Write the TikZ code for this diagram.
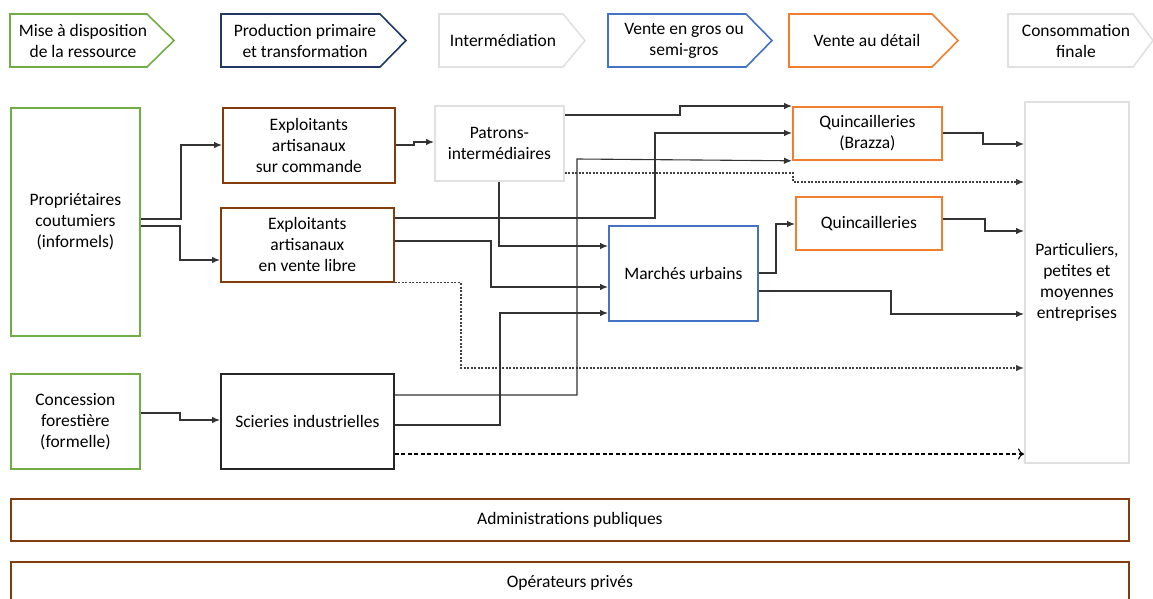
\documentclass[tikz,border=0pt]{standalone}
\usepackage{fontspec}
\setmainfont{Carlito}
\usepackage{xcolor}
\usetikzlibrary{arrows.meta}
\definecolor{vert}{HTML}{70AD47}
\definecolor{marine}{HTML}{203864}
\definecolor{gris}{HTML}{E0E0E0}
\definecolor{bleu}{HTML}{4472C4}
\definecolor{orangeq}{HTML}{F07E2E}
\definecolor{brun}{HTML}{843C0C}
\begin{document}
\begin{tikzpicture}[>={Latex[length=8pt,width=6.5pt]}, x=1pt, y=-1pt,
 hd/.style={line width=1.6pt, line join=miter},
 hdtxt/.style={align=center, inner sep=0pt, font=\fontsize{17.5}{20.5}\selectfont},
 box/.style={draw, line width=1.8pt, inner sep=0pt, align=center, anchor=north west,
  text=black, font=\fontsize{17.5}{21}\selectfont},
 fl/.style={->, line width=1.1pt, black!80},
 pointille/.style={->, line width=1.1pt, black!75, dash pattern=on 2pt off 1.5pt},
 tirets/.style={-{To[length=6pt,width=11pt]}, line width=1.1pt, black, dash pattern=on 4pt off 2.5pt}]
 \useasboundingbox (0,0) rectangle (1153,599);
 %\draw [help lines] (0,0) grid [step=50] (1153,599);
 % bandeau des etapes
 \draw [hd, vert] (10,14) -- (147,14) -- (174,40.5) -- (147,67) -- (10,67) -- cycle;
 \node [hdtxt] (etA) at (83,41) {Mise à disposition\\de la ressource};
 \draw [hd, marine] (221,14) -- (380,14) -- (406,40.5) -- (380,67) -- (221,67) -- cycle;
 \node [hdtxt] (etB) at (305,41) {Production primaire\\et transformation};
 \draw [hd, gris] (439,14) -- (563,14) -- (585,40.5) -- (563,67) -- (439,67) -- cycle;
 \node [hdtxt] (etC) at (503,40.5) {Intermédiation};
 \draw [hd, bleu] (608,14) -- (746,14) -- (772,40.5) -- (746,67) -- (608,67) -- cycle;
 \node [hdtxt] (etD) at (684,41) {Vente en gros ou\\semi-gros};
 \draw [hd, orangeq] (789,14) -- (932,14) -- (958,40.5) -- (932,67) -- (789,67) -- cycle;
 \node [hdtxt] (etE) at (867,40.5) {Vente au détail};
 \draw [hd, gris] (1008,14) -- (1133,14) -- (1153,40.5) -- (1133,67) -- (1008,67) -- cycle;
 \node [hdtxt] (etF) at (1076,41) {Consommation\\finale};
 %
 \node [box, draw=vert, minimum width=129, minimum height=228] (prop) at (10,107) {Propriétaires\\coutumiers\\(informels)};
 \node [box, draw=vert, minimum width=129, minimum height=95] (conc) at (10,373) {Concession\\forestière\\(formelle)};
 \node [box, draw=brun, minimum width=172, minimum height=75] (excom) at (222,107) {Exploitants\\artisanaux\\sur commande};
 \node [box, draw=brun, minimum width=173, minimum height=74] (exlib) at (220,207) {Exploitants\\artisanaux\\en vente libre};
 \node [box, draw=black!85, minimum width=173, minimum height=95] (scie) at (220,373) {Scieries industrielles};
 \node [box, draw=gris, minimum width=129, minimum height=75] (patr) at (434,105) {Patrons-\\intermédiaires};
 \node [box, draw=bleu, minimum width=149, minimum height=95] (marc) at (608,225) {Marchés urbains};
 \node [box, draw=orangeq, minimum width=149, minimum height=53] (quinb) at (792,106) {Quincailleries\\(Brazza)};
 \node [box, draw=orangeq, minimum width=146, minimum height=53] (quin) at (795,196) {Quincailleries};
 \node [box, draw=gris, minimum width=104, minimum height=361] (part) at (1024,101) {Particuliers,\\petites et\\moyennes\\entreprises};
 \node [box, draw=brun, minimum width=1118, minimum height=42] (admin) at (10,498) {Administrations publiques};
 \node [box, draw=brun, minimum width=1118, minimum height=42] (oper) at (10,561) {Opérateurs privés};
 %
 \draw [fl] (prop.east |- 0,219) -| (181,145) -- (excom.west |- 0,145);
 \draw [fl] (prop.east |- 0,226) -| (180,260) -- (exlib.west |- 0,260);
 \draw [fl] (conc.east |- 0,413) -| (180,420) -- (scie.west |- 0,420);
 \draw [fl] (excom.east |- 0,145) -| (414,142) -- (patr.west |- 0,142);
 %
 \draw [fl] (patr.east |- 0,115) -| (680,106) -- (quinb.west |- 0,106);
 \draw [pointille] (patr.east |- 0,173) -| (793,182) -- (part.west |- 0,182);
 \draw [fl] (patr.south -| 499,0) |- (marc.west |- 0,246);
 %
 \draw [fl] (exlib.east |- 0,218) -| (655,133) -- (quinb.west |- 0,133);
 \draw [fl] (exlib.east |- 0,241) -| (491,287) -- (marc.west |- 0,287);
 \draw [pointille] (exlib.south east) -| (461,368) -- (part.west |- 0,368);
 %
 \draw [fl] (scie.east |- 0,395) -| (577,159) -- (quinb.south west);
 \draw [fl] (scie.east |- 0,425) -| (500,313) -- (marc.west |- 0,313);
 \draw [tirets] (scie.east |- 0,454) -- (part.west |- 0,454);
 %
 \draw [fl] (marc.east |- 0,273) -| (776,224) -- (quin.west |- 0,224);
 \draw [fl] (marc.east |- 0,291) -| (891,314) -- (part.west |- 0,314);
 \draw [fl] (quinb.east |- 0,133) -| (983,144) -- (part.west |- 0,144);
 \draw [fl] (quin.east |- 0,219) -| (985,231) -- (part.west |- 0,231);
\end{tikzpicture}
\end{document}
